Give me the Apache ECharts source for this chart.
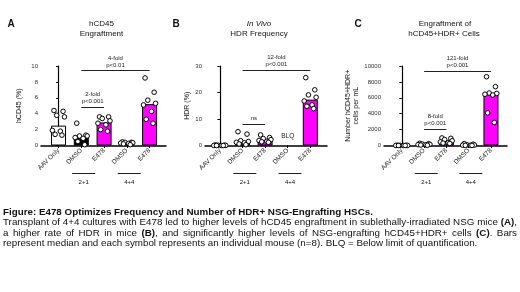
<!DOCTYPE html>
<html>
<head>
<meta charset="utf-8">
<script src="https://cdn.jsdelivr.net/npm/echarts@6/dist/echarts.min.js"></script>
<style>
  html, body { margin: 0; padding: 0; background: #fff; }
  #main { width: 520px; height: 292px; }
</style>
</head>
<body>
<div id="main"></div>
<script>
const groups = ['AAV Only', 'DMSO', 'E478', 'DMSO', 'E478']
const conditions = ['2+1', '4+4']

// A: hCD45 engraftment (%), one value per mouse
const engraftDots = [
  [4.4, 4.3, 3.8, 3.6, 1.9, 1.8, 1.4, 1.3],
  [2.8, 1.3, 1.2, 1.2, 1.0, 0.9, 0.5, 0.1],
  [3.6, 3.6, 3.4, 3.1, 2.8, 2.6, 2.0, 1.8],
  [0.45, 0.4, 0.4, 0.35, 0.3, 0.25, 0.2, 0.1],
  [8.5, 6.7, 5.7, 5.3, 5.1, 4.3, 3.3, 2.8]
]
const engraftMedian = [2.5, 1.1, 2.9, 0.3, 5.2]

// B: in vivo HDR frequency (%), DMSO 4+4 below limit of quantification
const hdrDots = [
  [0.2, 0.1, 0.1, 0.05, 0, 0, 0, 0],
  [5.2, 4.3, 1.8, 1.5, 1.2, 1.0, 0.6, 0.3],
  [4.0, 3.0, 2.6, 2.2, 1.9, 1.6, 1.4, 1.2],
  [],
  [25.6, 21.0, 19.1, 18.2, 16.8, 15.3, 14.8, 13.9]
]
const hdrMedian = [0.05, 1.1, 2.0, null, 17.3]

// C: hCD45+HDR+ cells per mL
const cellDots = [
  [30, 20, 15, 10, 5, 5, 0, 0],
  [280, 220, 180, 150, 110, 90, 60, 30],
  [950, 900, 750, 600, 450, 350, 300, 250],
  [230, 160, 90, 60, 40, 30, 20, 10],
  [8650, 7400, 6600, 6550, 6450, 6350, 4100, 2900]
]
const cellMedian = [8, 130, 420, 50, 6500]

// comparisons: [from group, to group, height, label]
const engraftTests = [[1, 2, 4.8, '2-fold\np<0.001'], [1, 4, 9.45, '4-fold\np<0.01']]
const hdrTests = [[1, 2, 8.2, 'ns'], [1, 4, 28.5, '12-fold\np<0.001']]
const cellTests = [[1, 2, 2100, '8-fold\np<0.001'], [1, 4, 9400, '121-fold\np<0.001']]

const yTicksA = [0, 10, 2]
const yTicksB = [0, 30, 10]
const yTicksC = [0, 10000, 2000]

const FONT = '"Liberation Sans", Arial, sans-serif'
const MAGENTA = '#ff00ff'
const fills = ['#ffffff', '#000000', MAGENTA, '#000000', MAGENTA]
// horizontal spread of the mouse symbols inside a bar (category units)
const spread = [-0.2, 0.2, -0.08, 0.26, -0.27, 0.08, -0.15, 0.15]

const panels = [
  { left: 41, width: 125, xMin: -0.77, xMax: 4.72, ticks: yTicksA, name: 'hCD45 (%)', gap: 18,
    dots: engraftDots, median: engraftMedian, tests: engraftTests },
  { left: 205, width: 122, xMin: -0.66, xMax: 4.74, ticks: yTicksB, name: 'HDR (%)', gap: 12,
    dots: hdrDots, median: hdrMedian, tests: hdrTests },
  { left: 384, width: 123, xMin: -0.8, xMax: 4.72, ticks: yTicksC, name: 'Number hCD45+HDR+\ncells per mL', gap: 16,
    dots: cellDots, median: cellMedian, tests: cellTests }
]

const chart = echarts.init(document.getElementById('main'))

const grid = panels.map(p => ({
  left: p.left, width: p.width, top: 66, height: 79.5, outerBoundsMode: 'none'
}))

const xAxis = panels.map((p, i) => ({
  type: 'value',
  gridIndex: i,
  min: p.xMin,
  max: p.xMax,
  axisLine: { show: true, onZero: false, lineStyle: { color: '#000', width: 1.5 } },
  axisTick: { show: true, customValues: [0, 1, 2, 3, 4], length: 2.5, lineStyle: { color: '#000' } },
  axisLabel: {
    customValues: [0, 1, 2, 3, 4],
    formatter: v => groups[v],
    rotate: 45,
    fontSize: 6.5,
    fontFamily: FONT,
    color: '#222',
    margin: 4
  },
  splitLine: { show: false }
}))

const yAxis = panels.map((p, i) => ({
  type: 'value',
  gridIndex: i,
  min: p.ticks[0],
  max: p.ticks[1],
  interval: p.ticks[2],
  axisLine: { show: true, lineStyle: { color: '#000', width: 1.2 } },
  axisTick: { show: true, length: 2.5, lineStyle: { color: '#000' } },
  axisLabel: { fontSize: 6, fontFamily: FONT, color: '#333', margin: 3, formatter: v => String(v) },
  splitLine: { show: false },
  name: p.name,
  nameLocation: 'middle',
  nameGap: p.gap,
  nameTextStyle: { fontSize: 7, fontFamily: FONT, color: '#111', lineHeight: 8.5 }
}))

const series = []
panels.forEach((p, i) => {
  series.push({
    type: 'bar',
    xAxisIndex: i,
    yAxisIndex: i,
    barWidth: 15,
    silent: true,
    animation: false,
    data: p.median.map((v, k) => (v === null ? null : {
      value: [k, v],
      itemStyle: { color: fills[k], borderColor: '#000', borderWidth: 1 }
    }))
  })
  const pts = []
  p.dots.forEach((list, k) => list.forEach((v, j) => pts.push([k + spread[j], v])))
  series.push({
    type: 'scatter',
    xAxisIndex: i,
    yAxisIndex: i,
    symbol: 'circle',
    symbolSize: 4.6,
    silent: true,
    animation: false,
    z: 5,
    itemStyle: { color: '#fff', borderColor: '#000', borderWidth: 1, opacity: 1 },
    data: pts,
    markLine: {
      silent: true,
      animation: false,
      symbol: ['none', 'none'],
      lineStyle: { color: '#222', width: 1, type: 'solid' },
      label: {
        position: 'middle',
        formatter: '{b}',
        fontSize: 6,
        lineHeight: 7,
        fontFamily: FONT,
        color: '#222',
        distance: 2
      },
      data: p.tests.map(t => [
        { name: t[3], coord: [t[0], t[2]] },
        { coord: [t[1], t[2]] }
      ])
    },
    markPoint: i === 1 ? {
      silent: true,
      animation: false,
      symbolSize: 0,
      label: { show: true, formatter: 'BLQ', fontSize: 6.5, fontFamily: FONT, color: '#222' },
      data: [{ coord: [3, 3.6] }]
    } : undefined
  })
})

chart.setOption({
  backgroundColor: '#fff',
  animation: false,
  grid,
  xAxis,
  yAxis,
  series
})

// static text: panel letters, titles, group bars, caption
const txt = (x, y, text, font, extra) => ({
  type: 'text', x, y, silent: true,
  style: Object.assign({ text, font, fill: '#111', align: 'center', verticalAlign: 'middle' }, extra || {})
})

const graphic = [
  txt(11, 24, 'A', 'bold 10px ' + FONT),
  txt(176, 24, 'B', 'bold 10px ' + FONT),
  txt(358, 24, 'C', 'bold 10px ' + FONT),
  txt(101.5, 24, 'hCD45', '8px ' + FONT),
  txt(101.5, 34, 'Engraftment', '8px ' + FONT),
  txt(259, 24, 'In Vivo', 'italic 8px ' + FONT),
  txt(259, 34, 'HDR Frequency', '8px ' + FONT),
  txt(445, 24, 'Engraftment of', '8px ' + FONT),
  txt(444, 34, 'hCD45+HDR+ Cells', '8px ' + FONT)
]

panels.forEach((p, i) => {
  ;[1.5, 3.5].forEach((c, k) => {
    const cx = chart.convertToPixel({ xAxisIndex: i }, c) - 9
    graphic.push({
      type: 'line', silent: true,
      shape: { x1: cx - 11.5, y1: 173.5, x2: cx + 11.5, y2: 173.5 },
      style: { stroke: '#222', lineWidth: 1 }
    })
    graphic.push(txt(cx, 182.5, conditions[k], '6px ' + FONT))
  })
})

// caption, lines 2 and 3 are justified
const capFont = '9.8px ' + FONT
const capBold = 'bold 9.8px ' + FONT
const ctx = document.createElement('canvas').getContext('2d')
const measure = (s, f) => { ctx.font = f; return ctx.measureText(s).width }
const capY = [212.5, 222.7, 232.9, 243.1]

graphic.push(txt(3, capY[0], 'Figure: E478 Optimizes Frequency and Number of HDR+ NSG-Engrafting HSCs.', capBold, { align: 'left' }))

const justified = [
  'Transplant of 4+4 cultures with E478 led to higher levels of hCD45 engraftment in sublethally-irradiated NSG mice *(A)*,',
  'a higher rate of HDR in mice *(B)*, and significantly higher levels of NSG-engrafting hCD45+HDR+ cells *(C)*. Bars'
]
justified.forEach((line, li) => {
  const y = capY[li + 1]
  const words = line.split(' ').map(w => w.split('*').map((s, n) => [s, n % 2 === 1]).filter(s => s[0]))
  const widths = words.map(parts => parts.reduce((a, s) => a + measure(s[0], s[1] ? capBold : capFont), 0))
  const total = widths.reduce((a, b) => a + b, 0)
  const gapW = Math.max(1.5, (517 - 3 - total) / (words.length - 1))
  let x = 3
  words.forEach(parts => {
    parts.forEach(s => {
      const f = s[1] ? capBold : capFont
      graphic.push(txt(x, y, s[0], f, { align: 'left' }))
      x += measure(s[0], f)
    })
    x += gapW
  })
})
graphic.push(txt(3, capY[3], 'represent median and each symbol represents an individual mouse (n=8). BLQ = Below limit of quantification.', capFont, { align: 'left' }))

chart.setOption({ graphic })
</script>
</body>
</html>
